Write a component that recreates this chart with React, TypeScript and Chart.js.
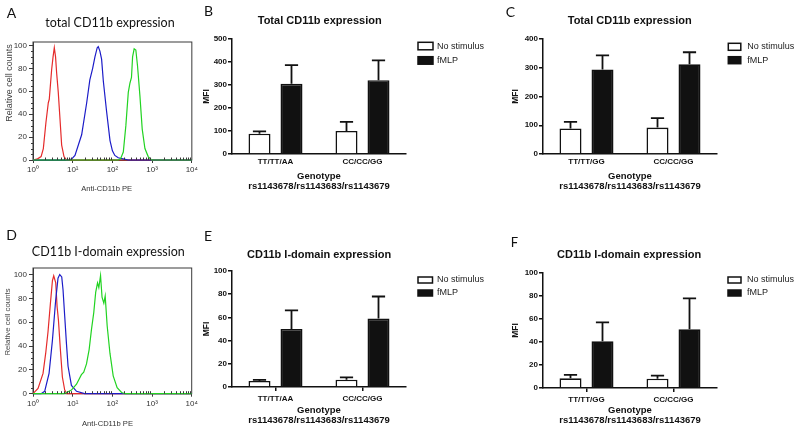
import React, { useEffect, useRef } from "react";
import { Chart, registerables } from "chart.js";

Chart.register(...registerables);

const SANS = "'Liberation Sans', Arial, Helvetica, sans-serif";
const HUMAN = "Lato, 'Open Sans', sans-serif";

// ---------- Flow cytometry histograms (A, D) ----------
const LOG_TICKS = [1, 10, 100, 1000, 10000];
const LOG_TICK_LABELS = ["10⁰", "10¹", "10²", "10³", "10⁴"];
const LOG_MINOR = [2, 3, 4, 5, 6, 7, 8, 9, 20, 30, 40, 50, 60, 70, 80, 90, 200, 300, 400, 500, 600, 700, 800, 900, 2000, 3000, 4000, 5000, 6000, 7000, 8000, 9000];
const COUNT_TICKS = [0, 20, 40, 60, 80, 100];
const COUNT_MINOR = [5, 10, 15, 25, 30, 35, 45, 50, 55, 65, 70, 75, 85, 90, 95];

const A_RED_X = [1, 1.3, 1.6, 1.82, 2.12, 2.43, 2.57, 2.95, 3.2, 3.44, 3.7, 3.94, 4.33, 4.78, 5.27, 6.03, 7, 10000];
const A_RED_Y = [0, 1, 3, 10, 33, 50, 53, 79, 90, 98, 90, 76, 59, 36, 13, 3, 0, 0];
const A_BLUE_X = [1, 8, 9.5, 11.4, 16.8, 22.5, 27, 31.8, 36.3, 41.4, 44, 48.4, 53.4, 59, 71, 87, 100, 115, 140, 185, 250, 10000];
const A_BLUE_Y = [0, 0, 1, 4, 22, 50, 70, 80, 90, 98, 99, 95, 88, 69, 43, 17, 8, 4, 2, 1, 0, 0];
const A_GREEN_X = [1, 140, 160, 188, 218, 251, 276, 302, 322, 353, 389, 429, 493, 563, 659, 796, 970, 10000];
const A_GREEN_Y = [0, 0, 1, 7, 30, 59, 67, 72, 90, 97, 96, 82, 56, 27, 10, 3, 0, 0];

const D_RED_X = [1, 1.34, 1.79, 2.09, 2.39, 2.75, 3.09, 3.33, 3.74, 4.05, 4.37, 4.9, 5.5, 6.3, 7.2, 10000];
const D_RED_Y = [0, 4.5, 17, 34, 52, 76, 95, 99, 93, 73, 62, 37, 14, 3, 0, 0];
const D_BLUE_X = [1, 1.6, 1.97, 2.54, 3.09, 3.74, 4.27, 4.72, 5.3, 5.72, 6.3, 6.97, 7.65, 9.3, 12.5, 20, 10000];
const D_BLUE_Y = [0, 0, 2, 17, 45, 79, 97, 100, 98, 87, 65, 42, 23, 7, 2, 0, 0];
const D_GREEN_X = [1, 6, 7, 9.3, 12.5, 16.6, 19, 22.3, 26, 29.8, 34, 38, 42.3, 45.6, 50.4, 55, 61, 66, 74, 87, 105, 132, 171, 210, 10000];
const D_GREEN_Y = [0, 0, 1, 3, 8, 16, 18, 25, 37, 54, 68, 85, 93, 89, 99, 81, 76, 82, 57, 34, 15, 5, 1, 0, 0];

const RED = "#e52b2b";
const BLUE = "#1c1cc8";
const GREEN = "#22d322";

// ---------- Bar panels (B, C, E, F) ----------
const SERIES = ["No stimulus", "fMLP"];
const CAT_AA = ["TT/TT/AA", "CC/CC/GG"];
const CAT_GG = ["TT/TT/GG", "CC/CC/GG"];
const X_TITLE = ["Genotype", "rs1143678/rs1143683/rs1143679"];

const B_NOSTIM = [88, 100];
const B_NOSTIM_SEM = [10, 40];
const B_FMLP = [305, 321];
const B_FMLP_SEM = [81, 86];

const C_NOSTIM = [89, 92];
const C_NOSTIM_SEM = [23, 33];
const C_FMLP = [294, 312];
const C_FMLP_SEM = [49, 42];

const E_NOSTIM = [5.2, 6.3];
const E_NOSTIM_SEM = [1, 2];
const E_FMLP = [50, 59];
const E_FMLP_SEM = [16, 19];

const F_NOSTIM = [8.4, 8.1];
const F_NOSTIM_SEM = [3, 2.6];
const F_FMLP = [40.6, 51];
const F_FMLP_SEM = [16.5, 27];

// ---------- plugins ----------
const framePlugin = {
  id: "frame",
  beforeDatasetsDraw(chart: any) {
    const { ctx, chartArea: a } = chart;
    ctx.save();
    ctx.strokeStyle = "#3a3a3a";
    ctx.lineWidth = 1;
    ctx.strokeRect(a.left, a.top, a.right - a.left, a.bottom - a.top);
    ctx.restore();
  },
};

const minorTickPlugin = {
  id: "minorTicks",
  afterDraw(chart: any, _args: any, opts: any) {
    const { ctx, chartArea: a } = chart;
    const xs = chart.scales.x;
    const ys = chart.scales.y;
    ctx.save();
    ctx.strokeStyle = "#3a3a3a";
    ctx.lineWidth = 1;
    ctx.beginPath();
    (opts.x || []).forEach((v: number) => {
      const px = Math.round(xs.getPixelForValue(v)) + 0.5;
      ctx.moveTo(px, a.bottom);
      ctx.lineTo(px, a.bottom - 2.5);
    });
    (opts.y || []).forEach((v: number) => {
      const py = Math.round(ys.getPixelForValue(v)) + 0.5;
      ctx.moveTo(a.left, py);
      ctx.lineTo(a.left - 2, py);
    });
    ctx.stroke();
    ctx.restore();
  },
};

const errorBarPlugin = {
  id: "errorBars",
  afterDatasetsDraw(chart: any) {
    const { ctx } = chart;
    const ys = chart.scales.y;
    chart.data.datasets.forEach((ds: any, i: number) => {
      const meta = chart.getDatasetMeta(i);
      meta.data.forEach((bar: any, j: number) => {
        const top = ys.getPixelForValue(ds.data[j] + ds.sem[j]);
        const half = bar.width * 0.3;
        ctx.save();
        ctx.strokeStyle = "#111";
        ctx.lineWidth = 1.8;
        ctx.beginPath();
        ctx.moveTo(bar.x, bar.y);
        ctx.lineTo(bar.x, top);
        ctx.moveTo(bar.x - half, top);
        ctx.lineTo(bar.x + half, top);
        ctx.stroke();
        ctx.restore();
      });
    });
  },
};

const sideLegendPlugin = {
  id: "sideLegend",
  afterDraw(chart: any, _args: any, o: any) {
    const { ctx, chartArea: a } = chart;
    chart.data.datasets.forEach((ds: any, i: number) => {
      const x = a.right + o.dx;
      const y = a.top + o.dy + i * o.step;
      ctx.save();
      ctx.fillStyle = ds.backgroundColor;
      ctx.fillRect(x, y, o.bw, o.bh);
      ctx.strokeStyle = "#111";
      ctx.lineWidth = 1.5;
      ctx.strokeRect(x, y, o.bw, o.bh);
      ctx.fillStyle = "#222";
      ctx.font = `9px ${SANS}`;
      ctx.textBaseline = "middle";
      ctx.fillText(ds.label, a.right + o.dx + 19, y + o.bh / 2);
      ctx.restore();
    });
  },
};

// ---------- configs ----------
type Curve = { x: number[]; y: number[]; color: string };

function histConfig(curves: Curve[], yMax: number, pad: { top: number; right: number; bottom: number }) {
  return {
    type: "scatter",
    data: {
      datasets: curves.map((c) => ({
        data: c.x.map((x, i) => ({ x, y: c.y[i] })),
        showLine: true,
        borderColor: c.color,
        backgroundColor: c.color,
        borderWidth: 1.2,
        pointRadius: 0,
        fill: false,
        clip: 3,
      })),
    },
    options: {
      responsive: false,
      animation: false,
      events: [],
      layout: { padding: { left: 0, top: pad.top, right: pad.right, bottom: pad.bottom } },
      plugins: {
        legend: { display: false },
        tooltip: { enabled: false },
        minorTicks: { x: LOG_MINOR, y: COUNT_MINOR },
      },
      scales: {
        x: {
          type: "logarithmic",
          min: 1,
          max: 10000,
          afterBuildTicks: (s: any) => {
            s.ticks = LOG_TICKS.map((v) => ({ value: v }));
          },
          afterFit: (s: any) => {
            s.height = 20;
          },
          ticks: {
            autoSkip: false,
            maxRotation: 0,
            padding: 2,
            color: "#333",
            font: { family: SANS, size: 8 },
            callback: (v: number) => LOG_TICK_LABELS[LOG_TICKS.indexOf(v)],
          },
          grid: { display: true, drawOnChartArea: false, drawTicks: true, tickLength: 3, color: "#3a3a3a" },
          border: { display: true, color: "#3a3a3a" },
        },
        y: {
          min: 0,
          max: yMax,
          afterBuildTicks: (s: any) => {
            s.ticks = COUNT_TICKS.map((v) => ({ value: v }));
          },
          afterFit: (s: any) => {
            s.width = 33;
          },
          ticks: { padding: 2, color: "#333", font: { family: SANS, size: 8 } },
          grid: { display: true, drawOnChartArea: false, drawTicks: true, tickLength: 4, color: "#3a3a3a" },
          border: { display: true, color: "#3a3a3a" },
        },
      },
    },
    plugins: [framePlugin, minorTickPlugin],
  };
}

type BarP = {
  categories: string[];
  noStim: number[];
  noStimSem: number[];
  fmlp: number[];
  fmlpSem: number[];
  yMax: number;
  yStep: number;
  yWidth: number;
  pad: { top: number; right: number; bottom: number };
  xHeight: number;
  xTicks: boolean;
  legend: { dx: number; dy: number; step: number; bw: number; bh: number };
};

function barConfig(p: BarP) {
  const bold8 = { family: SANS, size: 8, weight: "bold" };
  return {
    type: "bar",
    data: {
      labels: p.categories,
      datasets: [
        {
          label: SERIES[0],
          data: p.noStim,
          sem: p.noStimSem,
          backgroundColor: "#ffffff",
          borderColor: "#111",
          borderWidth: 1.6,
          categoryPercentage: 0.7356,
          barPercentage: 0.6875,
        },
        {
          label: SERIES[1],
          data: p.fmlp,
          sem: p.fmlpSem,
          backgroundColor: "#111111",
          borderColor: "#111",
          borderWidth: 1.6,
          categoryPercentage: 0.7356,
          barPercentage: 0.6875,
        },
      ],
    },
    options: {
      responsive: false,
      animation: false,
      events: [],
      layout: { padding: { left: 0, top: p.pad.top, right: p.pad.right, bottom: p.pad.bottom } },
      plugins: {
        legend: { display: false },
        tooltip: { enabled: false },
        sideLegend: p.legend,
      },
      scales: {
        x: {
          offset: true,
          afterFit: (s: any) => {
            s.height = p.xHeight;
          },
          ticks: { padding: 3, color: "#111", font: bold8, autoSkip: false, maxRotation: 0 },
          grid: {
            display: p.xTicks,
            drawOnChartArea: false,
            drawTicks: p.xTicks,
            tickLength: 4,
            offset: false,
            color: "#111",
            lineWidth: 1.5,
          },
          border: { display: true, color: "#111", width: 1.5 },
          title: {
            display: true,
            text: X_TITLE,
            color: "#111",
            padding: 0,
            font: { family: SANS, size: 9.5, weight: "bold", lineHeight: 1.1 },
          },
        },
        y: {
          min: 0,
          max: p.yMax,
          afterFit: (s: any) => {
            s.width = p.yWidth;
          },
          ticks: { stepSize: p.yStep, padding: 1, color: "#111", font: bold8 },
          grid: { display: true, drawOnChartArea: false, drawTicks: true, tickLength: 4, color: "#111", lineWidth: 1.5 },
          border: { display: true, color: "#111", width: 1.5 },
          title: {
            display: true,
            text: "MFI",
            color: "#111",
            padding: { top: 2, bottom: 0 },
            font: { family: SANS, size: 8.5, weight: "bold", lineHeight: 1.2 },
          },
        },
      },
    },
    plugins: [errorBarPlugin, sideLegendPlugin],
  };
}

// ---------- components ----------
function ChartBox(props: { left: number; top: number; width: number; height: number; make: () => any }) {
  const ref = useRef<HTMLCanvasElement>(null);
  useEffect(() => {
    const chart = new Chart(ref.current as HTMLCanvasElement, props.make());
    return () => chart.destroy();
  }, []);
  return (
    <canvas
      ref={ref}
      width={props.width}
      height={props.height}
      style={{ position: "absolute", left: props.left, top: props.top, width: props.width, height: props.height }}
    />
  );
}

function Txt(props: {
  x: number;
  y: number;
  text: string;
  family: string;
  size: number;
  weight?: string;
  color?: string;
  center?: boolean;
  rotate?: boolean;
}) {
  let transform = "none";
  if (props.rotate) transform = "translate(-50%,-50%) rotate(-90deg)";
  else if (props.center) transform = "translate(-50%,-50%)";
  return (
    <div
      style={{
        position: "absolute",
        left: props.x,
        top: props.y,
        transform,
        fontFamily: props.family,
        fontSize: props.size,
        fontWeight: (props.weight as any) || "normal",
        color: props.color || "#111",
        lineHeight: 1,
        whiteSpace: "nowrap",
      }}
    >
      {props.text}
    </div>
  );
}

function TopCentered(props: { cx: number; top: number; text: string; family: string; size: number; weight?: string; color?: string }) {
  return (
    <div
      style={{
        position: "absolute",
        left: props.cx - 150,
        width: 300,
        top: props.top,
        textAlign: "center",
        fontFamily: props.family,
        fontSize: props.size,
        fontWeight: (props.weight as any) || "normal",
        color: props.color || "#111",
        lineHeight: 1,
        whiteSpace: "nowrap",
      }}
    >
      {props.text}
    </div>
  );
}

export default function App() {
  const aCurves: Curve[] = [
    { x: A_GREEN_X, y: A_GREEN_Y, color: GREEN },
    { x: A_BLUE_X, y: A_BLUE_Y, color: BLUE },
    { x: A_RED_X, y: A_RED_Y, color: RED },
  ];
  const dCurves: Curve[] = [
    { x: D_GREEN_X, y: D_GREEN_Y, color: GREEN },
    { x: D_BLUE_X, y: D_BLUE_Y, color: BLUE },
    { x: D_RED_X, y: D_RED_Y, color: RED },
  ];
  return (
    <div style={{ position: "absolute", left: 0, top: 0, width: 800, height: 432, background: "#fff", overflow: "hidden" }}>
      <ChartBox left={0} top={0} width={200} height={216} make={() => histConfig(aCurves, 103, { top: 42, right: 8, bottom: 36 })} />
      <ChartBox left={0} top={216} width={200} height={216} make={() => histConfig(dCurves, 105.5, { top: 52, right: 8.3, bottom: 18.3 })} />
      <ChartBox
        left={200}
        top={0}
        width={300}
        height={216}
        make={() =>
          barConfig({
            categories: CAT_AA,
            noStim: B_NOSTIM,
            noStimSem: B_NOSTIM_SEM,
            fmlp: B_FMLP,
            fmlpSem: B_FMLP_SEM,
            yMax: 500,
            yStep: 100,
            yWidth: 32,
            pad: { top: 39, right: 94, bottom: 24 },
            xHeight: 38,
            xTicks: false,
            legend: { dx: 12, dy: 3.3, step: 14.4, bw: 15, bh: 7.5 },
          })
        }
      />
      <ChartBox
        left={509}
        top={0}
        width={291}
        height={216}
        make={() =>
          barConfig({
            categories: CAT_GG,
            noStim: C_NOSTIM,
            noStimSem: C_NOSTIM_SEM,
            fmlp: C_FMLP,
            fmlpSem: C_FMLP_SEM,
            yMax: 400,
            yStep: 100,
            yWidth: 34,
            pad: { top: 39, right: 83, bottom: 24 },
            xHeight: 38,
            xTicks: false,
            legend: { dx: 11.3, dy: 4.3, step: 13.4, bw: 12.5, bh: 7 },
          })
        }
      />
      <ChartBox
        left={200}
        top={216}
        width={300}
        height={216}
        make={() =>
          barConfig({
            categories: CAT_AA,
            noStim: E_NOSTIM,
            noStimSem: E_NOSTIM_SEM,
            fmlp: E_FMLP,
            fmlpSem: E_FMLP_SEM,
            yMax: 100,
            yStep: 20,
            yWidth: 32,
            pad: { top: 55, right: 94, bottom: 6 },
            xHeight: 39,
            xTicks: true,
            legend: { dx: 12, dy: 6, step: 13, bw: 14.5, bh: 6 },
          })
        }
      />
      <ChartBox
        left={509}
        top={216}
        width={291}
        height={216}
        make={() =>
          barConfig({
            categories: CAT_GG,
            noStim: F_NOSTIM,
            noStimSem: F_NOSTIM_SEM,
            fmlp: F_FMLP,
            fmlpSem: F_FMLP_SEM,
            yMax: 100,
            yStep: 20,
            yWidth: 34,
            pad: { top: 57, right: 83, bottom: 6 },
            xHeight: 38,
            xTicks: true,
            legend: { dx: 11, dy: 4, step: 13, bw: 13, bh: 6 },
          })
        }
      />

      {/* panel letters */}
      <Txt x={6.7} y={5.9} text="A" family={HUMAN} size={14} />
      <Txt x={204} y={4.3} text="B" family={HUMAN} size={14} />
      <Txt x={505.8} y={4.9} text="C" family={HUMAN} size={14} />
      <Txt x={6.3} y={227.6} text="D" family={HUMAN} size={14} />
      <Txt x={204} y={228.6} text="E" family={HUMAN} size={14} />
      <Txt x={510.7} y={236.3} text="F" family={HUMAN} size={13} />

      {/* panel titles */}
      <TopCentered cx={110} top={16.9} text="total CD11b expression" family={HUMAN} size={12.5} />
      <TopCentered cx={108.3} top={245.6} text="CD11b I-domain expression" family={HUMAN} size={12.5} />
      <TopCentered cx={319.7} top={15.3} text="Total CD11b expression" family={SANS} size={11} weight="bold" />
      <TopCentered cx={629.7} top={15.3} text="Total CD11b expression" family={SANS} size={11} weight="bold" />
      <TopCentered cx={319.2} top={248.6} text="CD11b I-domain expression" family={SANS} size={11} weight="bold" />
      <TopCentered cx={629.2} top={248.6} text="CD11b I-domain expression" family={SANS} size={11} weight="bold" />

      {/* histogram axis titles */}
      <Txt x={9} y={83} text="Relative cell counts" family={SANS} size={9} color="#444" rotate />
      <Txt x={8} y={322} text="Relative cell counts" family={SANS} size={7.8} color="#444" rotate />
      <Txt x={106.7} y={188.5} text="Anti-CD11b PE" family={SANS} size={7.6} color="#333" center />
      <Txt x={107.5} y={424} text="Anti-CD11b PE" family={SANS} size={7.6} color="#333" center />
    </div>
  );
}
